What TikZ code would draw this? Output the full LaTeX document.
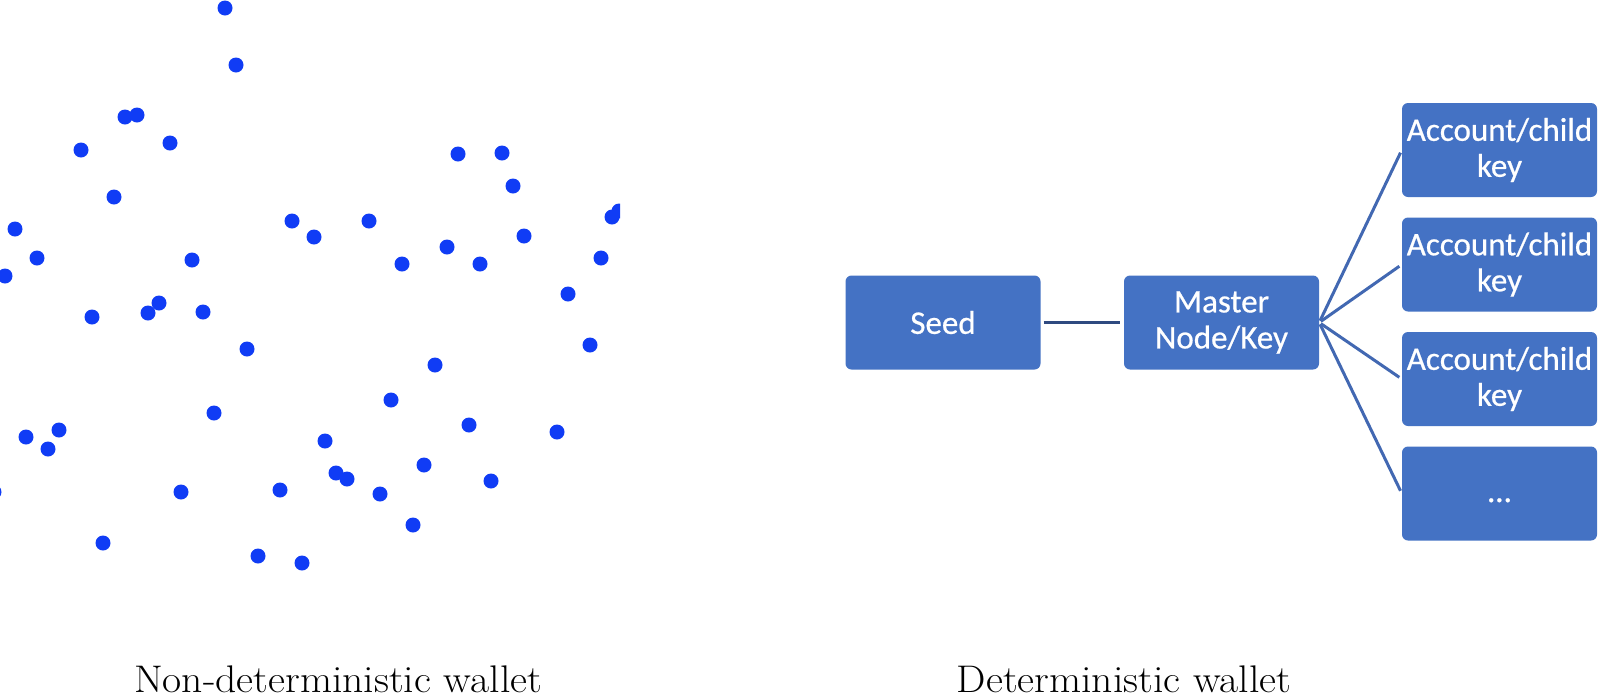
\documentclass[tikz,border=0pt]{standalone}
\usepackage{fontspec}
\usepackage{graphicx}
\newfontfamily\boxfont[FakeBold=0.6]{Carlito}
\definecolor{dotblue}{RGB}{16,60,245}
\definecolor{boxblue}{RGB}{68,114,196}
\definecolor{fanblue}{RGB}{66,104,178}
\definecolor{linkdark}{RGB}{47,74,128}
\begin{document}
\begin{tikzpicture}[x=1pt,y=-1pt,
  keybox/.style={rectangle,rounded corners=6pt,fill=boxblue,text=white,
    font=\boxfont\fontsize{33}{36}\selectfont,align=center,
    minimum width=195pt,minimum height=94pt,inner sep=0pt},
  link/.style={line width=3pt,draw=fanblue,shorten <=2pt,shorten >=3pt},
  seedlink/.style={line width=3pt,draw=linkdark,shorten <=3pt,shorten >=4pt},
  caption/.style={font=\fontsize{38.5}{44}\selectfont,anchor=base,inner sep=0pt}]
\fill[white] (0,0) rectangle (1600,697);
\useasboundingbox (0,0) rectangle (1600,697);
% scatter of random keys
\begin{scope}
\clip (0,0) rectangle (620,697);
\foreach \px/\py in {225/8, 236/65, 125/117, 137/115, 170/143, 81/150, 114/197,
  15/229, 37/258, 5/276, 192/260, 292/221, 314/237, 369/221, 458/154, 502/153,
  513/186, 447/247, 402/264, 480/264, 524/236, 612/217, 619/211, 601/258,
  568/294, 92/317, 148/313, 159/303, 203/312, 247/349, 214/413, 26/437,
  59/430, 48/449, 181/492, 280/490, 103/543, 258/556, 302/563, 590/345,
  435/365, 391/400, 469/425, 557/432, 325/441, 336/473, 347/479, 424/465,
  380/494, 491/481, 413/525, -6/492}
  \fill[dotblue] (\px,\py) circle (7.5pt);
\end{scope}
% deterministic tree
\node[keybox] (seed) at (943,322.5) {Seed};
\node[keybox] (master) at (1221.5,322.5) {Master\\Node/Key};
\node[keybox] (acc1) at (1499.5,150) {Account/child\\key};
\node[keybox] (acc2) at (1499.5,264.5) {Account/child\\key};
\node[keybox] (acc3) at (1499.5,379) {Account/child\\key};
\node[keybox,text height=22pt,text depth=5pt] (acc4) at (1499.5,493.5) {…};
\draw[seedlink] (seed.east) -- (master.west);
\draw[link] (master.east) -- (acc1.west);
\draw[link] (master.east) -- (acc2.west);
\draw[link] (master.east) -- (acc3.west);
\draw[link] (master.east) -- (acc4.west);
% captions
\node[caption] (cap1) at (338,692) {\scalebox{1.08}[1]{Non-deterministic wallet}};
\node[caption] (cap2) at (1124,692) {\scalebox{1.08}[1]{Deterministic wallet}};
\end{tikzpicture}
\end{document}
